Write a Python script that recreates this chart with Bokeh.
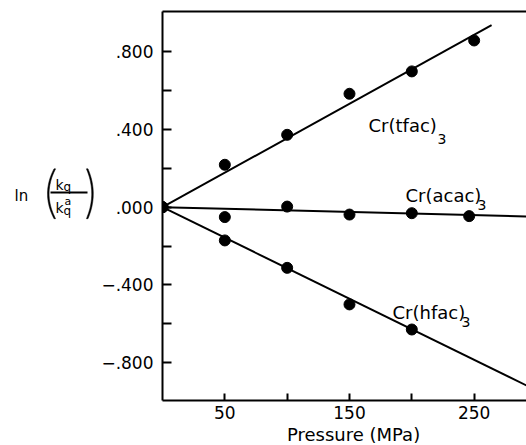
import numpy as np
from bokeh.plotting import figure
from bokeh.layouts import row
from bokeh.models import Range1d, LinearAxis, FixedTicker, ColumnDataSource, Title
from bokeh.core.properties import value
from bokeh.embed import file_html
from bokeh.resources import INLINE

# ---- data ----
pressure_tfac = [0, 50, 100, 150, 200, 250]
lnk_tfac = [0.0, 0.218, 0.372, 0.583, 0.698, 0.857]
pressure_acac = [0, 50, 100, 150, 200, 246]
lnk_acac = [0.0, -0.051, 0.003, -0.038, -0.031, -0.046]
pressure_hfac = [0, 50, 100, 150, 200]
lnk_hfac = [0.0, -0.171, -0.312, -0.500, -0.629]

# fitted straight lines through the origin: slope and last pressure drawn
slope_tfac, end_tfac = 0.003545, 264
slope_acac, end_acac = -0.000164, 300
slope_hfac, end_hfac = -0.00314, 300

series_names = ["Cr(tfac)", "Cr(acac)", "Cr(hfac)"]
subscript = "3"

x_ticks = [50, 100, 150, 200, 250]
x_tick_labels = ["50", "", "150", "", "250"]
y_ticks = [-0.8, -0.6, -0.4, -0.2, 0.0, 0.2, 0.4, 0.6, 0.8]
y_tick_labels = ["\u2212.800", "", "\u2212.400", "", ".000", "", ".400", "", ".800"]

x_title = "Pressure (MPa)"

FONT = "DejaVu Sans"

# ---- layout (page pixels) ----
LEFT_W = 94           # strip holding the y-axis title
MAIN_W = 526 - LEFT_W
H = 445
FRAME_L, FRAME_T, FRAME_B = 162, 11, 400

X_MIN, X_MAX = 0, 292
Y_MIN, Y_MAX = -0.994, 1.006
XS = (LEFT_W + MAIN_W - FRAME_L) / (X_MAX - X_MIN)
YS = (FRAME_B - FRAME_T) / (Y_MAX - Y_MIN)
Y0_PX = FRAME_T + Y_MAX * YS

def dx(px):
    return (px - FRAME_L) / XS

def dy(py):
    return (Y0_PX - py) / YS

# ---- main chart ----
p = figure(width=MAIN_W, height=H,
           x_range=Range1d(X_MIN, X_MAX), y_range=Range1d(Y_MIN, Y_MAX),
           output_backend="svg", toolbar_location=None,
           min_border_left=FRAME_L - LEFT_W, min_border_right=0,
           min_border_top=FRAME_T, min_border_bottom=H - FRAME_B)
p.outline_line_color = None
p.grid.visible = False
p.background_fill_color = "white"
p.border_fill_color = "white"

for ax in (p.xaxis[0], p.yaxis[0]):
    ax.axis_line_width = 2
    ax.axis_line_color = "black"
    ax.major_tick_line_width = 2
    ax.major_tick_line_color = "black"
    ax.major_tick_out = 0
    ax.minor_tick_in = 0
    ax.minor_tick_out = 0
    ax.major_label_text_font = FONT
    ax.major_label_text_font_size = "17px"
    ax.major_label_text_color = "black"

p.xaxis[0].ticker = FixedTicker(ticks=x_ticks)
p.xaxis[0].major_label_overrides = dict(zip(x_ticks, x_tick_labels))
p.xaxis[0].major_tick_in = 7
p.xaxis[0].major_label_standoff = 5

p.yaxis[0].ticker = FixedTicker(ticks=y_ticks)
p.yaxis[0].major_label_overrides = dict(zip(y_ticks, y_tick_labels))
p.yaxis[0].major_tick_in = 9
p.yaxis[0].major_label_standoff = 9

top = LinearAxis(ticker=FixedTicker(ticks=[]), axis_line_width=2,
                 major_tick_out=0, major_tick_in=0, minor_tick_in=0, minor_tick_out=0,
                 major_label_standoff=0, major_label_text_font_size="0px")
p.add_layout(top, "above")

TITLE_PX = 18
title_w = 7.508 * TITLE_PX            # advance width of the title in DejaVu Sans
p.add_layout(Title(text=x_title, align="left", offset=354 - FRAME_L - title_w / 2,
                   standoff=0, text_font=FONT, text_font_size=f"{TITLE_PX}px",
                   text_font_style="normal", text_color="black"), "below")

for slope, end in ((slope_tfac, end_tfac), (slope_acac, end_acac), (slope_hfac, end_hfac)):
    xs = np.array([0.0, end])
    p.line(xs, slope * xs, line_color="black", line_width=2)

for xs, ys in ((pressure_tfac, lnk_tfac), (pressure_acac, lnk_acac), (pressure_hfac, lnk_hfac)):
    p.scatter(xs, ys, size=11, fill_color="black", line_color="black")

label_pos = [(368, 125), (405, 195), (392, 312)]
sub_pos = [(437, 138), (477, 204), (461, 321)]
src = ColumnDataSource(dict(x=[dx(a) for a, b in label_pos], y=[dy(b) for a, b in label_pos],
                            t=series_names))
p.text("x", "y", text="t", source=src, text_font=value(FONT), text_font_size="18px",
       text_align="left", text_baseline="alphabetic", text_color="black")
src2 = ColumnDataSource(dict(x=[dx(a) for a, b in sub_pos], y=[dy(b) for a, b in sub_pos],
                             t=[subscript] * 3))
p.text("x", "y", text="t", source=src2, text_font=value(FONT), text_font_size="14px",
       text_align="left", text_baseline="alphabetic", text_color="black")

# ---- y-axis title strip (pixel coordinates, y downward) ----
yl = figure(width=LEFT_W, height=H, x_range=Range1d(0, LEFT_W), y_range=Range1d(H, 0),
            output_backend="svg", toolbar_location=None,
            x_axis_type=None, y_axis_type=None,
            min_border_left=0, min_border_right=0, min_border_top=0, min_border_bottom=0)
yl.outline_line_color = None
yl.grid.visible = False
yl.background_fill_color = "white"
yl.border_fill_color = "white"

def txt(f, x, y, t, size, align="left"):
    f.text([x], [y], text=[t], text_font=value(FONT), text_font_size=size,
           text_align=align, text_baseline="alphabetic", text_color="black")

txt(yl, 14, 211, "ln", "15px")
txt(yl, 55, 198, "k", "14px")
txt(yl, 63, 201, "q", "12px")
txt(yl, 55, 225, "k", "14px")
txt(yl, 63, 228, "q", "12px")
txt(yl, 64, 217, "a", "11px")
yl.segment([50], [207], [87], [207], line_color="black", line_width=2)

def paren(f, x_end, x_mid, y_top, y_bot, thick):
    t = np.linspace(-1, 1, 40)
    cy, h = (y_top + y_bot) / 2, (y_bot - y_top) / 2
    sgn = 1 if x_mid < x_end else -1
    outer = x_end + (x_mid - x_end) * (1 - t ** 2)
    inner = outer + sgn * thick
    yy = cy + h * t
    f.patch(list(outer) + list(inner[::-1]), list(yy) + list(yy[::-1]),
            fill_color="black", line_color="black", line_width=0.5)

paren(yl, 53.5, 47, 180, 237, 1.6)
paren(yl, 87.5, 92.8, 180, 237, 1.6)

layout = row(yl, p, spacing=0)
open("out.html", "w").write(file_html(layout, INLINE))
